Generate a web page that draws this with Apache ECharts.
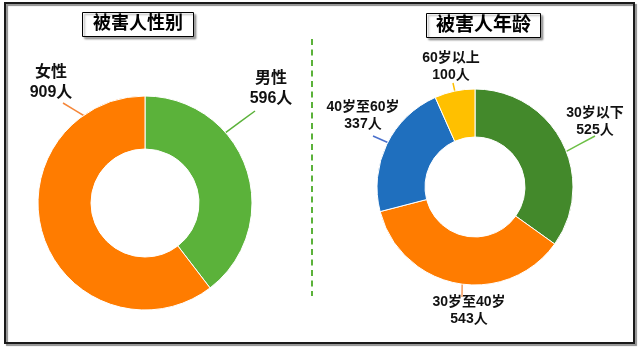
<!DOCTYPE html>
<html>
<head>
<meta charset="utf-8">
<style>
  html, body { margin: 0; padding: 0; background: #fff; }
  #chart { width: 640px; height: 350px; }
</style>
<script src="https://cdn.jsdelivr.net/npm/echarts@6/dist/echarts.min.js"></script>
</head>
<body>
<div id="chart"></div>
<script>
// Victim statistics: gender split and age groups
const genderTitle = '被害人性别';
const ageTitle = '被害人年龄';
const genderNames = ['男性', '女性'];
const genderValues = [596, 909];
const ageNames = ['30岁以下', '30岁至40岁', '40岁至60岁', '60岁以上'];
const ageValues = [525, 543, 337, 100];
const unit = '人';

const FONT = "'Liberation Sans', 'Noto Sans CJK SC', sans-serif";

const genderColors = ['#5BB23A', '#FF7C00'];
const genderLineColors = ['#5BB23A', '#F5873A'];
const ageColors = ['#43892B', '#FF7C00', '#1F6FBE', '#FFC000'];
const ageLineColors = ['#6CBF45', '#F59A5A', '#4A70CC', '#FFC000'];

// Donut geometry (pixels)
const genderPie = { cx: 145, cy: 203, r0: 54, r: 107 };
const agePie = { cx: 475, cy: 187, r0: 50, r: 98 };

// Label placement: text block centre, leader start near the text,
// leader end given as angle (deg clockwise from top) and fraction of outer radius
const genderLabels = [
  { x: 271, y: 89, sx: 255, sy: 111, ang: 48.8, rf: 0.98 },
  { x: 51, y: 83, sx: 63, sy: 103, ang: 325.7, rf: 0.97 }
];
const ageLabels = [
  { x: 595, y: 122, sx: 595, sy: 136, ang: 68.8, rf: 0.99 },
  { x: 469, y: 311, sx: 462, sy: 297, ang: 187.6, rf: 0.99 },
  { x: 363, y: 116, sx: 373, sy: 136, ang: 297.5, rf: 0.86 },
  { x: 451, y: 67, sx: 453, sy: 83, ang: 348.1, rf: 0.99 }
];

function polar(pie, ang, rf) {
  const t = ang * Math.PI / 180;
  return [pie.cx + Math.sin(t) * pie.r * rf, pie.cy - Math.cos(t) * pie.r * rf];
}

function layoutFor(pie, labels) {
  return function (params) {
    const L = labels[params.dataIndex];
    const end = polar(pie, L.ang, L.rf);
    const start = [L.sx, L.sy];
    const mid = [(start[0] + end[0]) / 2, (start[1] + end[1]) / 2];
    return {
      x: L.x, y: L.y, align: 'center', verticalAlign: 'middle',
      labelLinePoints: [end, mid, start]
    };
  };
}

function buildData(names, values, colors, lineColors) {
  return names.map(function (n, i) {
    return {
      name: n, value: values[i],
      itemStyle: { color: colors[i] },
      labelLine: { lineStyle: { color: lineColors[i] } }
    };
  });
}

const chart = echarts.init(document.getElementById('chart'), null, { renderer: 'canvas' });

const titleBox = {
  borderColor: '#000', borderWidth: 1, backgroundColor: '#fff',
  shadowColor: 'rgba(0,0,0,0.35)', shadowOffsetX: 2, shadowOffsetY: 2, shadowBlur: 2
};

chart.setOption({
  animation: false,
  title: [
    Object.assign({
      text: genderTitle, left: 82, top: 12, padding: [2, 11],
      textStyle: { fontFamily: FONT, fontSize: 18, fontWeight: 'bold', color: '#000', lineHeight: 21 }
    }, titleBox),
    Object.assign({
      text: ageTitle, left: 426, top: 13, padding: [2, 10],
      textStyle: { fontFamily: FONT, fontSize: 19, fontWeight: 'bold', color: '#000', lineHeight: 21 }
    }, titleBox)
  ],
  graphic: [
    {
      type: 'rect', z: -1,
      shape: { x: 5, y: 3, width: 629, height: 340 },
      style: {
        fill: null, stroke: '#1a1a1a', lineWidth: 2,
        shadowColor: 'rgba(0,0,0,0.45)', shadowOffsetX: 2, shadowOffsetY: 2, shadowBlur: 1
      }
    },
    {
      type: 'line',
      shape: { x1: 312, y1: 39, x2: 312, y2: 296 },
      style: { stroke: '#5BB23A', lineWidth: 2, lineDash: [6, 4.5] }
    }
  ],
  series: [
    {
      type: 'pie',
      center: [genderPie.cx, genderPie.cy],
      radius: [genderPie.r0, genderPie.r],
      startAngle: 90,
      clockwise: true,
      avoidLabelOverlap: false,
      itemStyle: { borderColor: '#fff', borderWidth: 1 },
      label: {
        show: true, position: 'outside',
        formatter: '{b}\n{c}' + unit,
        fontFamily: FONT, fontSize: 16, fontWeight: 'bold', color: '#111', lineHeight: 20
      },
      labelLine: { show: true, length: 10, length2: 0, lineStyle: { width: 1.5 } },
      labelLayout: layoutFor(genderPie, genderLabels),
      emphasis: { disabled: true },
      data: buildData(genderNames, genderValues, genderColors, genderLineColors)
    },
    {
      type: 'pie',
      center: [agePie.cx, agePie.cy],
      radius: [agePie.r0, agePie.r],
      startAngle: 90,
      clockwise: true,
      avoidLabelOverlap: false,
      itemStyle: { borderColor: '#fff', borderWidth: 1 },
      label: {
        show: true, position: 'outside',
        formatter: '{b}\n{c}' + unit,
        fontFamily: FONT, fontSize: 14, fontWeight: 'bold', color: '#111', lineHeight: 17
      },
      labelLine: { show: true, length: 10, length2: 0, lineStyle: { width: 1.5 } },
      labelLayout: layoutFor(agePie, ageLabels),
      emphasis: { disabled: true },
      data: buildData(ageNames, ageValues, ageColors, ageLineColors)
    }
  ]
});
</script>
</body>
</html>
